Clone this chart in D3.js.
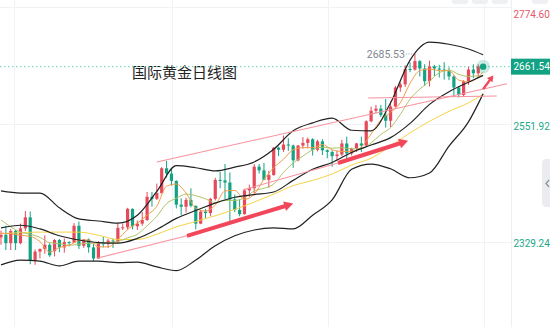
<!DOCTYPE html>
<html>
<head>
<meta charset="utf-8">
<script src="https://cdn.jsdelivr.net/npm/d3@7"></script>
<style>
  html, body { margin: 0; padding: 0; background: #fff; overflow: hidden; }
  svg { display: block; }
</style>
</head>
<body>
<svg id="chart" width="550" height="327"></svg>
<script>
// Daily gold (XAU/USD) candles, 2024-05-30 .. 2024-10-16
const dates = [
  "05-30","05-31","06-03","06-04","06-05","06-06","06-07","06-10","06-11","06-12",
  "06-13","06-14","06-17","06-18","06-19","06-20","06-21","06-24","06-25","06-26",
  "06-27","06-28","07-01","07-02","07-03","07-04","07-05","07-08","07-09","07-10",
  "07-11","07-12","07-15","07-16","07-17","07-18","07-19","07-22","07-23","07-24",
  "07-25","07-26","07-29","07-30","07-31","08-01","08-02","08-05","08-06","08-07",
  "08-08","08-09","08-12","08-13","08-14","08-15","08-16","08-19","08-20","08-21",
  "08-22","08-23","08-26","08-27","08-28","08-29","08-30","09-02","09-03","09-04",
  "09-05","09-06","09-09","09-10","09-11","09-12","09-13","09-16","09-17","09-18",
  "09-19","09-20","09-23","09-24","09-25","09-26","09-27","09-30","10-01","10-02",
  "10-03","10-04","10-07","10-08","10-09","10-10","10-11","10-14","10-15","10-16"
];
const open = [
  2338,2343,2327,2350,2327,2355,2376,2294,2311,2316,
  2324,2312,2333,2319,2329,2328,2360,2322,2334,2319,
  2298,2327,2326,2332,2330,2356,2357,2392,2359,2364,
  2371,2415,2411,2422,2469,2459,2445,2400,2396,2409,
  2398,2364,2387,2384,2411,2447,2446,2442,2410,2390,
  2382,2427,2431,2472,2465,2447,2456,2508,2504,2514,
  2512,2484,2512,2517,2524,2504,2520,2503,2500,2492,
  2495,2516,2497,2506,2516,2512,2558,2578,2582,2570,
  2559,2586,2622,2628,2657,2656,2672,2658,2634,2662,
  2658,2656,2653,2643,2622,2608,2634,2656,2649,2662
];
const high = [
  2351,2360,2354,2352,2364,2388,2387,2315,2317,2342,
  2327,2335,2335,2336,2331,2365,2368,2335,2336,2325,
  2331,2339,2335,2336,2365,2364,2394,2393,2370,2386,
  2424,2424,2440,2471,2483,2470,2446,2412,2413,2431,
  2398,2390,2392,2413,2451,2462,2477,2461,2419,2410,
  2430,2438,2477,2477,2479,2464,2509,2510,2531,2526,
  2514,2513,2528,2527,2526,2523,2524,2505,2503,2503,
  2523,2529,2508,2517,2529,2560,2586,2589,2589,2600,
  2596,2625,2632,2664,2670,2685.53,2674,2666,2673,2665,
  2665,2670,2660,2645,2625,2636,2661,2666,2666,2664
];
const low = [
  2324,2314,2314,2314,2325,2350,2287,2286,2298,2307,
  2301,2302,2310,2309,2321,2327,2316,2318,2309,2293,
  2297,2319,2318,2318,2327,2352,2352,2353,2352,2360,
  2369,2396,2409,2421,2451,2436,2393,2380,2385,2395,
  2353,2363,2374,2378,2408,2431,2410,2364,2386,2378,
  2381,2415,2420,2459,2458,2432,2455,2492,2500,2502,
  2470,2482,2506,2507,2493,2501,2494,2488,2472,2485,
  2492,2485,2493,2500,2500,2511,2556,2573,2566,2546,
  2547,2584,2614,2623,2651,2654,2643,2625,2624,2644,
  2641,2637,2636,2604,2603,2605,2627,2640,2641,2657
];
const close = [
  2343,2327,2350,2327,2355,2376,2294,2311,2316,2324,
  2304,2333,2319,2329,2328,2360,2322,2334,2319,2298,
  2327,2326,2332,2330,2356,2357,2392,2359,2364,2371,
  2415,2411,2422,2469,2459,2445,2400,2396,2409,2398,
  2364,2387,2384,2411,2447,2446,2442,2410,2390,2382,
  2427,2431,2472,2465,2447,2456,2508,2504,2514,2512,
  2484,2512,2517,2524,2504,2520,2503,2500,2492,2495,
  2516,2497,2506,2516,2512,2558,2578,2582,2570,2559,
  2586,2622,2628,2657,2656,2672,2658,2634,2662,2658,
  2656,2653,2643,2622,2608,2634,2656,2649,2662,2661.54
];

// Moving averages, [candle index, value]
const ma5 = [
  [0,2346],[2,2345],[4,2342],[6,2340],[8,2330],[10,2310],[12,2319],[14,2323],[16,2332],[18,2333],
  [20,2320],[22,2320],[24,2334],[26,2353],[28,2365],[30,2380],[32,2397],[34,2435],[36,2439],[38,2422],
  [40,2393],[42,2388],[44,2399],[46,2426],[48,2427],[50,2410],[52,2420],[54,2448],[56,2470],[58,2486],
  [60,2504],[62,2508],[64,2508],[66,2514],[68,2504],[70,2501],[72,2501],[74,2509],[76,2534],[78,2560],
  [80,2575],[82,2593],[84,2630],[86,2654],[88,2657],[90,2654],[92,2654],[94,2636],[96,2633],[98,2642],[99,2652]
];
const ma10 = [
  [0,2371],[2,2358],[4,2348],[6,2344],[8,2338],[10,2328],[12,2326],[14,2323],[16,2325],[18,2327],
  [20,2327],[22,2328],[24,2330],[26,2337],[28,2344],[30,2360],[32,2378],[34,2402],[36,2412],[38,2420],
  [40,2417],[42,2411],[44,2404],[46,2408],[48,2408],[50,2413],[52,2426],[54,2431],[56,2439],[58,2461],
  [60,2479],[62,2492],[64,2504],[66,2509],[68,2507],[70,2508],[72,2506],[74,2506],[76,2517],[78,2533],
  [80,2546],[82,2571],[84,2600],[86,2619],[88,2634],[90,2650],[92,2655],[94,2647],[96,2643],[98,2644],[99,2644]
];
const ma30 = [
  [0,2345],[4,2347],[8,2348],[12,2348],[16,2348],[20,2342],[24,2334],[28,2334],[32,2344],[36,2358],
  [40,2368],[44,2379],[48,2391],[52,2405],[56,2420],[60,2436],[64,2446],[68,2458],[72,2475],[76,2488],
  [80,2511],[84,2536],[88,2558],[92,2577],[96,2593],[99,2609]
];
// Bollinger bands (20, 2)
const bollUpper = [
  [0,2426],[4,2422],[8,2422],[12,2394],[16,2373],[20,2369],[24,2365],[28,2380],[32,2425],[36,2474],
  [40,2470],[44,2464],[48,2471],[52,2481],[56,2505],[60,2540],[64,2555],[68,2564],[72,2541],[76,2540],
  [80,2593],[84,2674],[88,2708],[92,2704],[96,2695],[99,2684]
];
const bollMid = [
  [0,2356],[4,2361],[8,2354],[12,2341],[16,2333],[20,2328],[24,2327],[28,2336],[32,2353],[36,2374],
  [40,2389],[44,2403],[48,2414],[52,2419],[56,2424],[60,2446],[64,2467],[68,2480],[72,2499],[76,2513],
  [80,2527],[84,2554],[88,2590],[92,2614],[96,2632],[99,2645]
];
const bollLower = [
  [0,2286],[4,2295],[8,2293],[12,2284],[16,2293],[20,2293],[24,2290],[28,2291],[32,2282],[36,2275],
  [40,2295],[44,2322],[48,2341],[52,2352],[56,2356],[60,2354],[64,2380],[68,2409],[72,2467],[76,2477],
  [80,2468],[84,2451],[88,2460],[92,2511],[96,2557],[99,2610]
];

// Price axis ticks, current quote, marked high
const priceTicks = [2329.24, 2551.92, 2774.60];
const lastPrice = 2661.54;
const peak = { index: 85, price: 2685.53 };
const gridIndex = [2.67, 35.1, 67.1, 99.2];

// Trend annotations, [candle index, price]
const channelTop = [[32.0, 2481], [103.9, 2629]];
const supportA = [[19.9, 2299], [38.2, 2341]];
const arrowA = [[38.2, 2341], [60.0, 2402]];
const supportB = [[49.7, 2428], [69.2, 2479]];
const arrowB = [[69.2, 2479], [83.6, 2521]];
const levelLine = [[75.4, 2602], [101.8, 2606]];
const arrowC = [[99.0, 2619], [101.1, 2645]];

const title = "国际黄金日线图";

const UP = "#e5495a", DOWN = "#13a383";
const svg = d3.select("#chart");
const W = 550, H = 327, axisX = 511;

const x = d3.scaleLinear().domain([0, dates.length - 1]).range([1, 483.1]);
const y = d3.scaleLinear().domain([priceTicks[0], priceTicks[2]]).range([242, 7]);

// grid
const grid = svg.append("g").attr("stroke", "#f1f2f5").attr("stroke-width", 1);
grid.selectAll(".gy").data(priceTicks).join("line")
  .attr("x1", 0).attr("x2", axisX)
  .attr("y1", d => Math.round(y(d)) + 0.5).attr("y2", d => Math.round(y(d)) + 0.5);
grid.selectAll(".gx").data(gridIndex).join("line")
  .attr("y1", 0).attr("y2", H)
  .attr("x1", d => Math.round(x(d)) + 0.5).attr("x2", d => Math.round(x(d)) + 0.5);
svg.append("line").attr("x1", axisX + 0.5).attr("x2", axisX + 0.5).attr("y1", 0).attr("y2", H)
  .attr("stroke", "#eeeff2");

// title
svg.append("text").attr("x", 132).attr("y", 77.5)
  .attr("font-family", "'Noto Sans CJK SC', sans-serif").attr("font-size", 15)
  .attr("fill", "#222").text(title);

// current price dotted line
svg.append("line").attr("x1", 0).attr("x2", axisX)
  .attr("y1", y(lastPrice)).attr("y2", y(lastPrice))
  .attr("stroke", "#82d6c6").attr("stroke-width", 1.2).attr("stroke-dasharray", "1.5,2.5");

// candles
const idx = d3.range(dates.length);
const cg = svg.append("g");
cg.selectAll("line").data(idx).join("line")
  .attr("x1", i => x(i)).attr("x2", i => x(i))
  .attr("y1", i => y(high[i])).attr("y2", i => y(low[i]))
  .attr("stroke", i => close[i] >= open[i] ? UP : DOWN).attr("stroke-width", 1);
cg.selectAll("rect").data(idx).join("rect")
  .attr("x", i => x(i) - 1.6).attr("width", 3.2)
  .attr("y", i => y(Math.max(open[i], close[i])))
  .attr("height", i => Math.max(1, Math.abs(y(open[i]) - y(close[i]))))
  .attr("fill", i => close[i] >= open[i] ? UP : DOWN);

// indicator lines
const line = d3.line().x(d => x(d[0])).y(d => y(d[1])).curve(d3.curveMonotoneX);
const lines = [
  [ma30, "#f5d345", 1],
  [ma10, "#aec466", 1],
  [ma5, "#f59d4a", 1],
  [bollUpper, "#222", 1.2],
  [bollMid, "#222", 1.2],
  [bollLower, "#222", 1.2]
];
lines.forEach(([data, color, w]) => {
  svg.append("path").datum(data).attr("d", line)
    .attr("fill", "none").attr("stroke", color).attr("stroke-width", w);
});

// annotations
const seg = d3.line().x(d => x(d[0])).y(d => y(d[1]));
[channelTop, supportA, supportB, levelLine].forEach(d => {
  svg.append("path").datum(d).attr("d", seg)
    .attr("fill", "none").attr("stroke", "#f7929d").attr("stroke-width", 1.1);
});
function arrow(pts, shaft, headLen, headW) {
  const x0 = x(pts[0][0]), y0 = y(pts[0][1]), x1 = x(pts[1][0]), y1 = y(pts[1][1]);
  const dx = x1 - x0, dy = y1 - y0, L = Math.hypot(dx, dy);
  const ux = dx / L, uy = dy / L, nx = -uy, ny = ux;
  const bx = x1 - ux * headLen, by = y1 - uy * headLen;
  const p = [
    [x0 + nx * shaft / 2, y0 + ny * shaft / 2],
    [bx + nx * shaft / 2, by + ny * shaft / 2],
    [bx + nx * headW / 2, by + ny * headW / 2],
    [x1, y1],
    [bx - nx * headW / 2, by - ny * headW / 2],
    [bx - nx * shaft / 2, by - ny * shaft / 2],
    [x0 - nx * shaft / 2, y0 - ny * shaft / 2]
  ];
  svg.append("path").attr("d", "M" + p.map(q => q.join(",")).join("L") + "Z")
    .attr("fill", "#f2475a");
}
arrow(arrowA, 4, 9, 10);
arrow(arrowB, 4, 9, 10);
arrow(arrowC, 2.4, 6, 7);

// marked high
const px = x(peak.index), py = y(peak.price);
svg.append("line").attr("x1", px - 9).attr("x2", px - 1).attr("y1", py).attr("y2", py)
  .attr("stroke", "#9aa0aa").attr("stroke-width", 1).attr("stroke-dasharray", "1,1.5");
svg.append("text").attr("x", px - 10).attr("y", py + 3.8).attr("text-anchor", "end")
  .attr("font-family", "Roboto, sans-serif").attr("font-size", 10.5).attr("fill", "#80858f")
  .text(d3.format(".2f")(peak.price));

// last price marker
const lx = x(dates.length - 1), ly = y(lastPrice);
svg.append("circle").attr("cx", lx).attr("cy", ly).attr("r", 7).attr("fill", DOWN).attr("opacity", 0.22);
svg.append("circle").attr("cx", lx).attr("cy", ly).attr("r", 3.2).attr("fill", DOWN);

// price axis
const axis = d3.axisRight(y).tickValues(priceTicks).tickFormat(d3.format(".2f")).tickSize(0).tickPadding(2.5);
const ag = svg.append("g").attr("transform", `translate(${axisX},0)`).call(axis);
ag.select(".domain").remove();
ag.selectAll("text")
  .attr("font-family", "Roboto, sans-serif").attr("font-size", 10)
  .attr("fill", d => d > lastPrice ? "#e4576a" : "#1aa88a")
  .attr("y", d => y(d) < 12 ? 7 : 1.5);

// last price tag
svg.append("rect").attr("x", axisX).attr("y", ly - 8).attr("width", 40).attr("height", 16).attr("fill", "#14a284");
svg.append("text").attr("x", axisX + 2.5).attr("y", ly + 3.6)
  .attr("font-family", "Roboto, sans-serif").attr("font-size", 10).attr("fill", "#fff")
  .text(d3.format(".2f")(lastPrice));

// toolbar edges and side handle
[[452, 16], [472, 16], [492, 16], [532, 16]].forEach(([bx, bw]) => {
  svg.append("rect").attr("x", bx).attr("y", -6).attr("width", bw).attr("height", 10).attr("rx", 3)
    .attr("fill", "#eef0f4");
});
svg.append("path").attr("d", "M552,159 L546,159 Q542,159 542,164 L542,202 Q542,207 546,207 L552,207 Z")
  .attr("fill", "#ebecf0");
svg.append("path").attr("d", "M549,180 L546,183.5 L549,187").attr("fill", "none")
  .attr("stroke", "#8b8f99").attr("stroke-width", 1.2);
</script>
</body>
</html>
